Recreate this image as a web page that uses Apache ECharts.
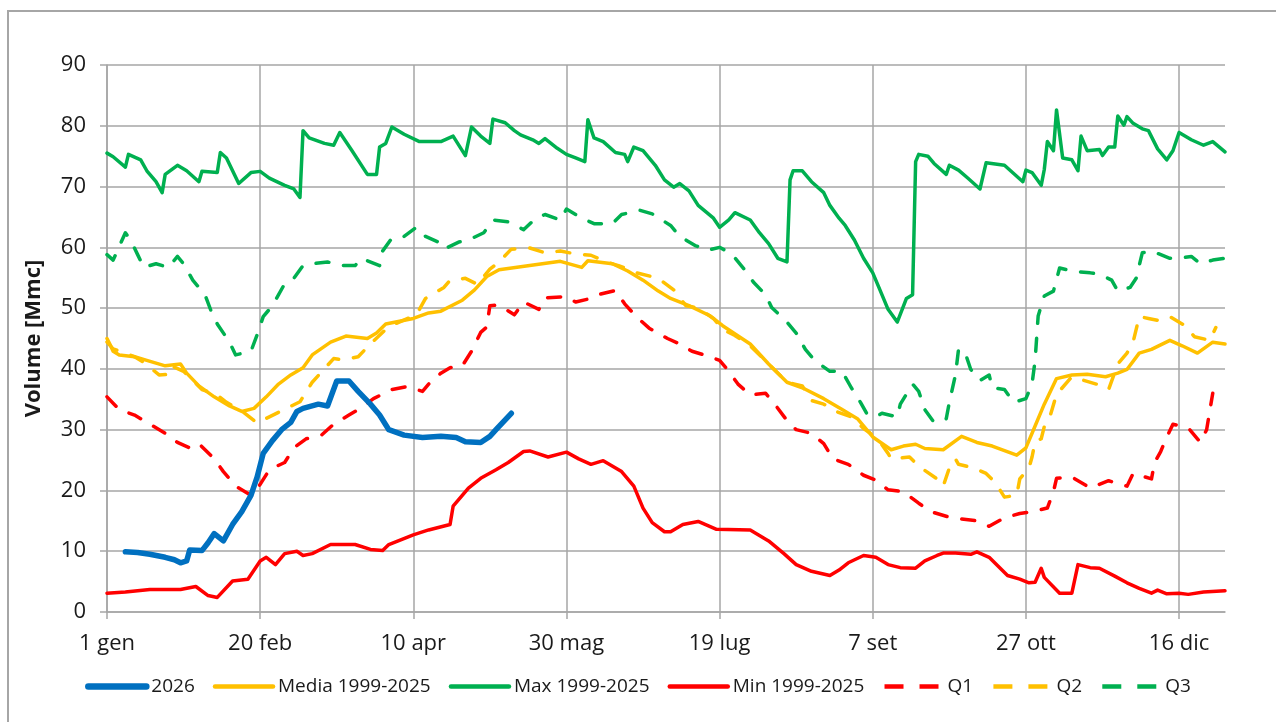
<!DOCTYPE html>
<html>
<head>
<meta charset="utf-8">
<title>Volume invasi</title>
<script src="https://cdn.jsdelivr.net/npm/echarts@6/dist/echarts.min.js"></script>
<style>
  html, body { margin: 0; padding: 0; background: #fff; overflow: hidden; }
  #wrap { position: relative; width: 1276px; height: 722px; overflow: hidden; }
  #chart { position: absolute; left: 0; top: 0; width: 1276px; height: 722px; }
  /* bordo dell'area grafico (come in Excel) */
  #frame { position: absolute; left: 7px; top: 10px; width: 1400px; height: 900px;
           border-left: 2px solid #a6a6a6; border-top: 2px solid #a6a6a6; }
</style>
</head>
<body>
<div id="wrap">
  <div id="frame"></div>
  <div id="chart"></div>
</div>
<script>
// etichette asse x (giorno dell'anno, ogni 50 giorni)
const tickLabels = ["1 gen", "20 feb", "10 apr", "30 mag", "19 lug", "7 set", "27 ott", "16 dic"];

// [giorno, Mmc]
const s2026 = [[6,9.9],[10,9.8],[14,9.5],[19,9.0],[22,8.6],[24,8.1],[26,8.4],[27,10.2],[31,10.1],[33,11.4],[35,12.9],[38,11.7],[41,14.4],[44,16.5],[47,19.2],[49,22.2],[51,26.1],[54,28.2],[57,30.0],[60,31.2],[62,33.0],[64,33.5],[69,34.2],[72,33.9],[75,38.0],[79,38.0],[82,36.3],[86,34.2],[89,32.4],[92,30.0],[97,29.1],[103,28.7],[109,28.9],[114,28.7],[117,28.0],[122,27.9],[125,28.9],[127,30.0],[132,32.7]];

const media = [[0,45.0],[1,44.0],[2,42.9],[4,42.3],[9,42.0],[13,41.4],[19,40.5],[24,40.8],[26,39.3],[30,37.2],[35,35.4],[40,33.9],[44,33.0],[48,33.5],[52,35.4],[56,37.5],[60,39.0],[64,40.2],[67,42.3],[73,44.4],[78,45.4],[85,45.0],[88,45.9],[91,47.4],[100,48.3],[105,49.2],[109,49.5],[116,51.3],[120,53.0],[124,55.2],[128,56.3],[138,57.0],[148,57.7],[155,56.7],[157,57.8],[165,57.3],[170,56.1],[175,54.6],[180,52.8],[184,51.6],[190,50.4],[197,48.7],[201,47.1],[210,44.1],[216,40.8],[222,37.8],[227,36.9],[234,35.1],[240,33.3],[245,31.8],[250,28.8],[256,26.7],[260,27.3],[264,27.6],[267,26.9],[273,26.7],[279,28.9],[284,27.9],[289,27.3],[297,25.8],[300,27.0],[303,30.6],[306,34.2],[310,38.4],[315,39.0],[320,39.1],[326,38.7],[330,39.3],[333,39.9],[337,42.6],[341,43.2],[347,44.7],[351,43.8],[356,42.6],[361,44.4],[365,44.1]];

const massimo = [[0,75.5],[2,74.9],[6,73.2],[7,75.3],[11,74.4],[13,72.6],[16,70.8],[18,69.0],[19,72.0],[23,73.5],[26,72.6],[30,70.8],[31,72.5],[36,72.3],[37,75.6],[39,74.7],[43,70.5],[47,72.3],[50,72.5],[53,71.4],[58,70.2],[61,69.6],[63,68.2],[64,79.2],[66,78.0],[71,77.1],[74,76.8],[76,78.9],[80,75.9],[85,72.0],[88,72.0],[89,76.5],[91,77.1],[93,79.8],[97,78.6],[102,77.4],[109,77.4],[113,78.3],[117,75.1],[119,79.8],[122,78.3],[125,77.1],[126,81.1],[130,80.5],[133,79.2],[135,78.5],[139,77.7],[141,77.1],[143,77.9],[147,76.3],[150,75.3],[153,74.7],[156,74.1],[157,81.0],[159,78.0],[162,77.4],[166,75.6],[169,75.3],[170,74.1],[172,76.5],[175,75.9],[179,73.5],[182,71.1],[185,69.9],[187,70.5],[190,69.3],[193,66.9],[198,64.8],[200,63.3],[203,64.5],[205,65.7],[210,64.5],[213,62.4],[216,60.6],[219,58.2],[222,57.6],[223,71.1],[224,72.6],[227,72.6],[230,70.8],[234,69.0],[236,66.9],[239,64.8],[241,63.6],[244,61.2],[247,58.2],[250,55.8],[252,53.4],[255,49.8],[258,47.7],[261,51.6],[263,52.2],[264,74.1],[265,75.3],[268,75.0],[270,73.8],[274,72.0],[275,73.5],[278,72.7],[281,71.4],[285,69.6],[287,73.9],[293,73.5],[299,70.8],[300,72.7],[302,72.3],[305,70.2],[306,72.8],[307,77.4],[309,75.9],[310,82.6],[312,74.7],[315,74.4],[317,72.6],[318,78.3],[320,75.9],[324,76.1],[325,75.1],[327,76.5],[329,76.5],[330,81.6],[332,80.1],[333,81.5],[335,80.4],[338,79.5],[340,79.2],[343,76.2],[346,74.4],[348,75.9],[350,78.9],[354,77.7],[358,76.8],[361,77.4],[365,75.7]];

const minimo = [[0,3.1],[6,3.3],[14,3.7],[24,3.7],[29,4.2],[33,2.7],[36,2.4],[41,5.1],[46,5.4],[50,8.4],[52,9.0],[55,7.8],[58,9.6],[62,10.0],[64,9.3],[67,9.6],[73,11.1],[81,11.1],[86,10.3],[90,10.1],[92,11.1],[100,12.7],[105,13.5],[112,14.4],[113,17.4],[118,20.4],[122,22.0],[127,23.4],[131,24.6],[136,26.4],[138,26.5],[144,25.5],[150,26.3],[154,25.2],[158,24.3],[162,24.9],[168,23.1],[172,20.7],[175,17.1],[178,14.7],[182,13.2],[184,13.2],[188,14.4],[193,14.9],[199,13.6],[210,13.5],[213,12.6],[216,11.7],[221,9.6],[225,7.8],[230,6.7],[236,6.0],[239,6.9],[242,8.1],[247,9.3],[251,9.0],[255,7.8],[259,7.3],[264,7.2],[267,8.4],[271,9.3],[273,9.7],[277,9.7],[282,9.5],[284,9.9],[288,9.0],[294,6.0],[298,5.4],[301,4.8],[303,4.9],[305,7.2],[306,5.7],[311,3.1],[315,3.1],[317,7.8],[321,7.3],[324,7.2],[329,5.9],[333,4.8],[337,3.9],[341,3.1],[343,3.6],[346,3.0],[350,3.1],[353,2.9],[358,3.3],[365,3.5]];

const q1 = [[0,35.4],[4,33.3],[9,32.4],[14,30.9],[19,29.4],[23,27.9],[27,27.0],[30,27.7],[35,25.2],[38,23.1],[42,20.7],[47,19.2],[50,21.0],[53,23.4],[58,24.6],[61,27.0],[65,28.5],[70,29.1],[74,30.9],[79,32.4],[83,33.6],[87,35.1],[93,36.6],[98,37.1],[103,36.3],[105,37.5],[109,39.3],[112,40.2],[116,40.5],[119,42.9],[122,46.0],[124,46.9],[125,50.4],[128,50.5],[133,48.9],[136,51.0],[141,49.8],[143,51.7],[150,51.9],[153,51.0],[158,51.6],[161,52.3],[166,52.9],[169,50.7],[173,48.5],[177,46.7],[183,45.0],[187,44.1],[191,42.9],[195,42.3],[200,41.4],[203,39.6],[206,37.5],[210,35.7],[215,36.0],[218,34.2],[222,31.5],[225,30.0],[230,29.4],[234,27.7],[237,25.2],[242,24.3],[247,22.5],[251,21.7],[255,20.1],[260,19.8],[265,17.9],[269,16.5],[275,15.6],[279,15.3],[284,15.0],[288,14.1],[293,15.5],[298,16.2],[302,16.5],[307,17.1],[309,19.8],[310,22.0],[315,22.2],[321,20.4],[327,21.6],[333,20.7],[335,22.8],[341,21.9],[342,24.6],[344,26.4],[346,28.8],[348,30.9],[353,30.3],[357,27.9],[359,30.0],[361,36.0]];

const q2 = [[0,44.4],[2,43.3],[9,42.0],[12,41.1],[17,39.0],[20,39.1],[21,40.5],[25,39.6],[31,36.6],[36,35.7],[39,34.5],[44,33.1],[49,31.1],[53,32.1],[59,33.6],[63,34.6],[67,37.8],[74,41.7],[77,41.5],[82,42.0],[86,44.1],[91,46.5],[94,47.4],[101,48.9],[104,51.6],[110,53.4],[112,54.6],[117,54.9],[121,53.9],[124,55.8],[125,56.4],[128,57.6],[132,59.7],[138,59.9],[143,59.1],[148,59.4],[153,58.9],[158,58.7],[163,57.6],[167,57.0],[173,55.8],[180,54.9],[185,53.0],[189,50.4],[193,50.0],[198,48.3],[201,46.5],[205,45.5],[210,43.8],[216,40.8],[222,37.8],[227,37.2],[230,34.8],[234,34.2],[238,33.0],[243,32.1],[247,30.2],[249,29.5],[252,28.2],[255,26.1],[256,25.2],[262,25.5],[265,24.0],[271,21.9],[273,20.7],[275,23.7],[277,25.2],[278,24.3],[283,23.7],[287,22.8],[290,21.3],[293,18.9],[297,19.2],[298,21.9],[301,23.7],[302,25.5],[303,28.0],[305,28.5],[306,30.5],[308,32.4],[310,35.8],[315,38.7],[323,37.5],[327,36.6],[330,40.8],[333,42.6],[335,44.4],[337,48.6],[340,48.3],[343,48.0],[347,48.6],[352,47.1],[355,45.3],[360,44.7],[362,46.8]];

const q3 = [[0,58.8],[2,57.9],[6,62.4],[8,60.9],[10,58.8],[12,56.7],[16,57.3],[20,56.7],[23,58.5],[25,57.3],[28,54.6],[32,52.2],[34,49.5],[36,47.4],[40,44.4],[42,42.3],[47,42.9],[49,45.6],[51,48.6],[54,50.4],[58,54.0],[61,54.9],[64,57.0],[67,57.3],[72,57.6],[76,57.0],[81,57.0],[83,58.2],[89,57.0],[90,59.4],[93,61.5],[97,61.8],[101,63.3],[104,61.8],[108,60.9],[110,59.7],[115,60.9],[118,61.2],[123,62.4],[126,64.5],[131,64.2],[136,62.9],[140,64.8],[143,65.4],[148,64.5],[150,66.3],[155,64.8],[159,63.9],[165,63.9],[168,65.4],[174,66.1],[178,65.5],[184,63.6],[187,61.8],[192,60.3],[196,59.5],[200,60.0],[204,58.9],[208,56.4],[211,54.3],[215,52.2],[217,50.1],[222,47.7],[225,45.9],[228,43.2],[231,41.4],[236,39.6],[240,39.6],[243,36.9],[246,34.5],[248,32.7],[251,32.1],[253,32.7],[258,32.1],[259,34.2],[263,37.5],[265,36.3],[267,33.3],[270,31.2],[274,31.8],[275,34.5],[277,39.0],[278,43.2],[280,42.9],[282,39.9],[285,38.1],[288,39.0],[289,36.9],[293,36.6],[296,34.5],[300,35.1],[302,37.5],[303,41.4],[304,48.7],[306,52.0],[309,52.8],[311,56.6],[315,56.1],[321,55.8],[324,55.6],[328,54.6],[330,52.8],[334,53.4],[336,54.9],[338,59.1],[341,59.4],[347,58.2],[350,58.2],[354,58.5],[357,57.3],[361,57.9],[365,58.2]];

const FONT = "'Open Sans', 'Noto Sans', sans-serif";
const GRID_COLOR = "#a6a6a6";
const BLUE = "#0070C0", YELLOW = "#FFC000", GREEN = "#00B050", RED = "#FF0000";

function linea(name, data, color, width, dashed, z) {
  return {
    name: name,
    type: "line",
    data: data,
    symbol: "none",
    showSymbol: false,
    smooth: false,
    animation: false,
    z: z || 2,
    itemStyle: { color: color },
    lineStyle: {
      color: color,
      width: width,
      type: dashed ? [13, 15] : "solid",
      cap: "round",
      join: "round"
    }
  };
}

// legenda: linee più spesse, tratteggio a due trattini
const legendSolid = { width: 4.5, cap: "round" };
const legendDash = { width: 4.5, type: [19, 16], cap: "butt" };

let myChart = echarts.init(document.getElementById("chart"), null, { renderer: "canvas" });
myChart.setOption({
  backgroundColor: "transparent",
  textStyle: { fontFamily: FONT },
  grid: { left: 107, right: 51, top: 65, bottom: 110, containLabel: false },
  legend: {
    bottom: 21,
    left: "center",
    itemWidth: 58,
    itemHeight: 12,
    itemGap: 18,
    itemStyle: { opacity: 0 },
    textStyle: { fontSize: 19, color: "#1a1a1a", fontFamily: FONT },
    data: [
      { name: "2026", lineStyle: { width: 6.5, cap: "round" } },
      { name: "Media 1999-2025", lineStyle: legendSolid },
      { name: "Max 1999-2025", lineStyle: legendSolid },
      { name: "Min 1999-2025", lineStyle: legendSolid },
      { name: "Q1", lineStyle: legendDash },
      { name: "Q2", lineStyle: legendDash },
      { name: "Q3", lineStyle: legendDash }
    ]
  },
  xAxis: {
    type: "value",
    min: 0,
    max: 365,
    interval: 50,
    axisLine: { show: true, lineStyle: { color: GRID_COLOR, width: 1.5 } },
    axisTick: { show: true, inside: false, length: 7, lineStyle: { color: GRID_COLOR, width: 1.5 } },
    splitLine: { show: true, showMaxLine: false, lineStyle: { color: GRID_COLOR, width: 1.5 } },
    axisLabel: {
      show: true,
      showMaxLabel: false,
      margin: 21,
      fontSize: 22,
      color: "#1a1a1a",
      fontFamily: FONT,
      formatter: function (v) {
        return v % 50 === 0 ? (tickLabels[v / 50] || "") : "";
      }
    }
  },
  yAxis: {
    type: "value",
    min: 0,
    max: 90,
    interval: 10,
    name: "Volume [Mmc]",
    nameLocation: "middle",
    nameGap: 62,
    nameTextStyle: { fontSize: 22, fontWeight: "bold", color: "#1a1a1a", fontFamily: FONT },
    axisLine: { show: true, lineStyle: { color: GRID_COLOR, width: 1.5 } },
    axisTick: { show: true, inside: false, length: 7, lineStyle: { color: GRID_COLOR, width: 1.5 } },
    splitLine: { show: true, lineStyle: { color: GRID_COLOR, width: 1.5 } },
    axisLabel: { margin: 21, fontSize: 22, color: "#1a1a1a", fontFamily: FONT }
  },
  series: [
    linea("2026", s2026, BLUE, 5.5, false, 10),
    linea("Media 1999-2025", media, YELLOW, 3.5, false),
    linea("Max 1999-2025", massimo, GREEN, 3.5, false),
    linea("Min 1999-2025", minimo, RED, 3.5, false),
    linea("Q1", q1, RED, 3.5, true),
    linea("Q2", q2, YELLOW, 3.5, true),
    linea("Q3", q3, GREEN, 3.5, true)
  ]
});
window.onresize = myChart.resize;
</script>
</body>
</html>
